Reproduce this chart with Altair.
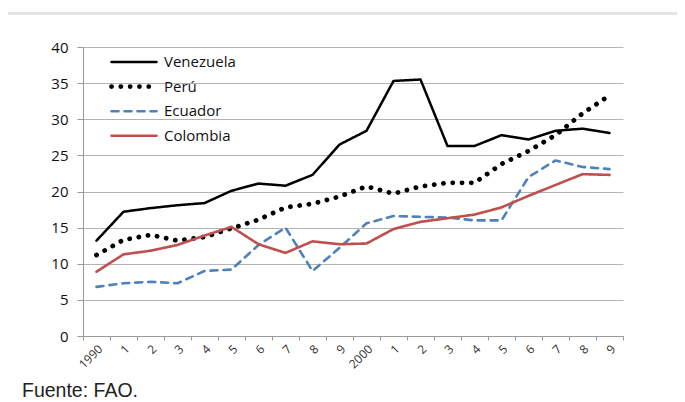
import altair as alt
import pandas as pd

years = list(range(1990, 2010))
tick_labels = ["1990", "1", "2", "3", "4", "5", "6", "7", "8", "9",
               "2000", "1", "2", "3", "4", "5", "6", "7", "8", "9"]
venezuela = [13.2, 17.2, 17.7, 18.1, 18.4, 20.1, 21.1, 20.8, 22.3, 26.5,
             28.4, 35.3, 35.5, 26.3, 26.3, 27.8, 27.2, 28.4, 28.7, 28.1]
peru = [11.2, 13.3, 14.0, 13.2, 13.7, 14.9, 16.1, 17.8, 18.3, 19.3,
        20.7, 19.7, 20.7, 21.2, 21.2, 23.8, 25.6, 27.8, 30.8, 33.3]
ecuador = [6.8, 7.3, 7.5, 7.3, 9.0, 9.2, 12.6, 15.0, 9.0, 12.2,
           15.6, 16.6, 16.5, 16.4, 16.0, 16.0, 22.0, 24.3, 23.4, 23.1]
colombia = [8.9, 11.3, 11.8, 12.6, 13.9, 15.1, 12.7, 11.5, 13.1, 12.7,
            12.8, 14.8, 15.8, 16.3, 16.8, 17.8, 19.4, 20.9, 22.4, 22.3]

series = ["Venezuela", "Perú", "Ecuador", "Colombia"]
values = [venezuela, peru, ecuador, colombia]
colors = ["#000000", "#000000", "#4f81bd", "#c0504d"]
dashes = [[1, 0], [0.1, 9.2], [7, 6], [1, 0]]
widths = [2.5, 4.8, 2.6, 2.6]

rows = []
for name, vals in zip(series, values):
    for y, v in zip(years, vals):
        rows.append({"Año": y, "País": name, "valor": v})
df = pd.DataFrame(rows)

label_map = "{" + ",".join(f"'{y}':'{l}'" for y, l in zip(years, tick_labels)) + "}"

legend = alt.Legend(
    title=None, orient="none", legendX=26, legendY=6,
    symbolType="stroke", symbolSize=2025, labelFont="Open Sans",
    labelFontSize=15, labelColor="#111111", clipHeight=18, rowPadding=6.6,
    labelOffset=5,
)

lines = alt.Chart(df).mark_line(strokeCap="round", strokeJoin="round").encode(
    x=alt.X("Año:O", scale=alt.Scale(type="band", paddingInner=0, paddingOuter=0),
            axis=alt.Axis(title=None, tickBand="extent", labelAngle=315,
                          labelExpr=f"{label_map}[datum.value]",
                          labelFont="Open Sans", labelFontSize=12, labelColor="#333333",
                          labelPadding=3, tickSize=4, tickColor="#999999",
                          domainColor="#999999", grid=False)),
    y=alt.Y("valor:Q", scale=alt.Scale(domain=[0, 40]),
            axis=alt.Axis(title=None, values=[0, 5, 10, 15, 20, 25, 30, 35, 40],
                          labelFont="Open Sans", labelFontSize=15, labelColor="#111111",
                          labelPadding=9, tickSize=6, tickColor="#999999",
                          domainColor="#999999", gridColor="#b3b3b3", grid=True)),
    color=alt.Color("País:N", sort=series,
                    scale=alt.Scale(domain=series, range=colors), legend=legend),
    strokeDash=alt.StrokeDash("País:N", sort=series,
                              scale=alt.Scale(domain=series, range=dashes), legend=legend),
    strokeWidth=alt.StrokeWidth("País:N", sort=series,
                                scale=alt.Scale(type="ordinal", domain=series, range=widths),
                                legend=legend),
    order="Año:O",
)

top_rule = alt.Chart(df).mark_rule(color="#e3e3e3", strokeWidth=3).encode(
    x=alt.value(-75), x2=alt.value(594), y=alt.value(-33.5)
)

chart = alt.layer(top_rule, lines).properties(
    width=540, height=289,
    autosize=alt.AutoSizeParams(type="none"),
    padding={"left": 75, "top": 39, "right": 54, "bottom": 64},
    title=alt.Title("Fuente: FAO.", orient="bottom", anchor="start", frame="group",
                    dx=-61, offset=12, font="Liberation Sans", fontSize=19.5,
                    fontWeight="normal", color="#222222"),
    usermeta={"embedOptions": {"patch": [
        {"op": "add", "path": "/legends/0/encode",
         "value": {"symbols": {"update": {"strokeCap": {"value": "round"}}}}}
    ]}},
).configure_view(stroke=None)

chart.save("out.html", embed_options={"renderer": "svg", "actions": False})
